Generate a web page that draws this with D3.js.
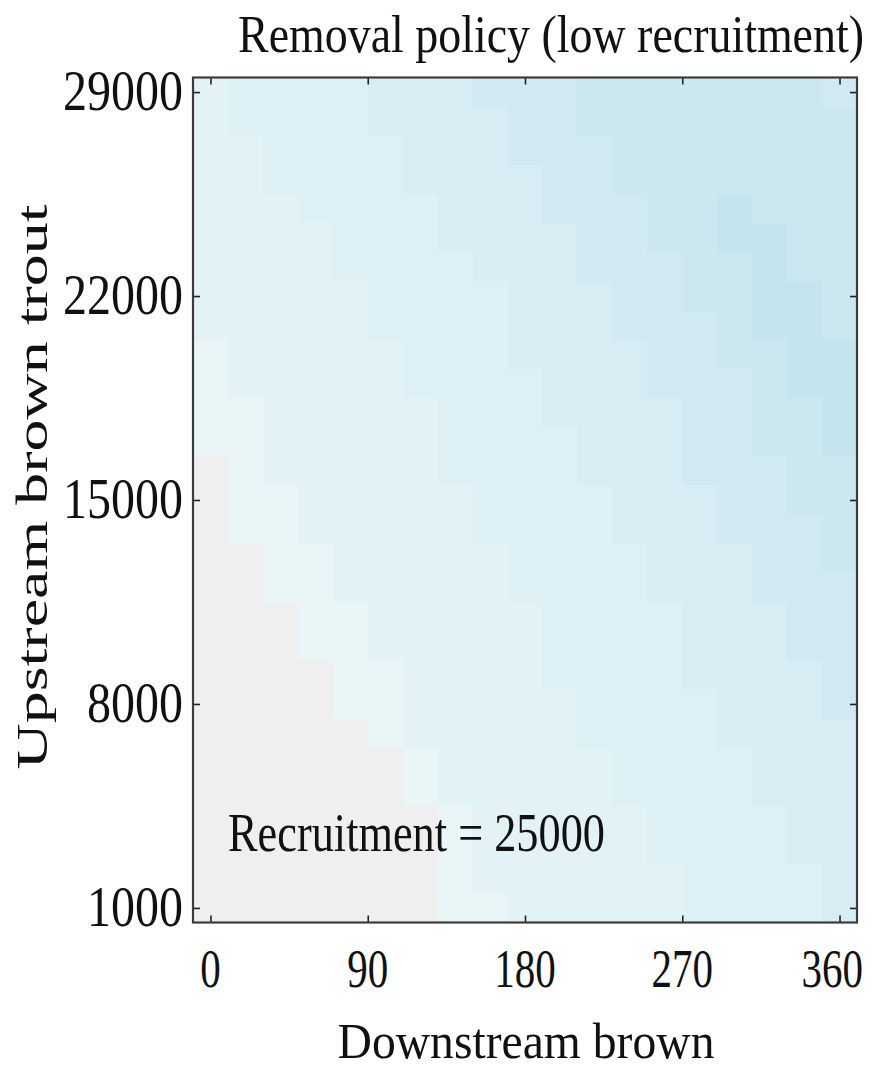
<!DOCTYPE html>
<html>
<head>
<meta charset="utf-8">
<script src="https://cdn.jsdelivr.net/npm/d3@7"></script>
<style>
  body { margin: 0; background: #ffffff; }
  svg { display: block; }
</style>
</head>
<body>
<svg id="chart" width="877" height="1073"></svg>
<script>
// ---------------- DATA ----------------
// Downstream brown removal (cell centres, columns left -> right)
const xValues = [0, 20, 40, 60, 80, 100, 120, 140, 160, 180, 200, 220, 240, 260, 280, 300, 320, 340, 360];
// Upstream brown trout (cell centres, rows top -> bottom)
const yValues = [29000, 28000, 27000, 26000, 25000, 24000, 23000, 22000, 21000, 20000,
                 19000, 18000, 17000, 16000, 15000, 14000, 13000, 12000, 11000, 10000,
                 9000, 8000, 7000, 6000, 5000, 4000, 3000, 2000, 1000];
const xTickValues = [0, 90, 180, 270, 360];
const yTickValues = [1000, 8000, 15000, 22000, 29000];
// Estimated shading level of each cell (0 = grey / no removal, 1..7 = light -> dark blue)
const levels = [
  [2,3,3,3,3,4,4,4,5,5,5,6,6,6,6,6,6,6,5],
  [2,3,3,3,3,4,4,4,4,5,5,6,6,6,6,6,6,6,6],
  [2,2,3,3,3,3,4,4,4,5,5,5,6,6,6,6,6,6,6],
  [2,2,3,3,3,3,4,4,4,4,5,5,6,6,6,6,6,6,6],
  [2,2,2,3,3,3,3,4,4,4,5,5,5,6,6,7,6,6,6],
  [2,2,2,2,3,3,3,4,4,4,4,5,5,6,6,7,7,6,6],
  [2,2,2,2,3,3,3,3,4,4,4,5,5,5,6,6,7,6,6],
  [2,2,2,2,2,3,3,3,3,4,4,4,5,5,6,6,7,7,6],
  [2,2,2,2,2,3,3,3,3,4,4,4,5,5,5,6,7,7,6],
  [1,2,2,2,2,2,3,3,3,4,4,4,4,5,5,6,6,7,7],
  [1,2,2,2,2,2,3,3,3,3,4,4,4,5,5,5,6,7,7],
  [1,1,2,2,2,2,2,3,3,3,4,4,4,4,5,5,6,6,7],
  [1,1,2,2,2,2,2,3,3,3,3,4,4,4,5,5,6,6,7],
  [0,1,2,2,2,2,2,3,3,3,3,4,4,4,5,5,5,6,6],
  [0,1,1,2,2,2,2,2,3,3,3,3,4,4,4,5,5,6,6],
  [0,1,1,2,2,2,2,2,3,3,3,3,4,4,4,5,5,5,6],
  [0,0,1,1,2,2,2,2,2,3,3,3,3,4,4,4,5,5,6],
  [0,0,1,1,2,2,2,2,2,3,3,3,3,4,4,4,5,5,5],
  [0,0,0,1,1,2,2,2,2,2,3,3,3,3,4,4,4,5,5],
  [0,0,0,1,1,2,2,2,2,2,3,3,3,3,4,4,4,5,5],
  [0,0,0,0,1,1,2,2,2,2,3,3,3,3,4,4,4,4,5],
  [0,0,0,0,1,1,2,2,2,2,2,3,3,3,3,4,4,4,5],
  [0,0,0,0,0,1,2,2,2,2,2,3,3,3,3,4,4,4,4],
  [0,0,0,0,0,0,1,2,2,2,2,2,3,3,3,3,4,4,4],
  [0,0,0,0,0,0,1,2,2,2,2,2,3,3,3,3,4,4,4],
  [0,0,0,0,0,0,0,1,2,2,2,2,2,3,3,3,3,4,4],
  [0,0,0,0,0,0,0,1,2,2,2,2,2,3,3,3,3,4,4],
  [0,0,0,0,0,0,0,1,2,2,2,2,2,2,3,3,3,3,4],
  [0,0,0,0,0,0,0,1,1,2,2,2,2,2,3,3,3,3,4]
];
const titleText = "Removal policy (low recruitment)";
const xAxisTitle = "Downstream brown";
const yAxisTitle = "Upstream brown trout";
const annotationText = "Recruitment = 25000";

// ---------------- STYLE / LAYOUT ----------------
const palette = ["#efefef", "#eaf5f8", "#e3f2f6", "#ddf0f5", "#d7edf3", "#d1eaf1", "#cbe8f0", "#c4e5ee"];
const plot = { left: 193, right: 857, top: 77.5, bottom: 922.5 };
const fontFamily = "'Liberation Serif', 'DejaVu Serif', serif";
const xStep = 20, yStep = 1000;

const svg = d3.select("#chart");

const x = d3.scaleLinear()
  .domain([d3.min(xValues) - xStep / 2, d3.max(xValues) + xStep / 2])
  .range([plot.left, plot.right]);
const y = d3.scaleLinear()
  .domain([d3.min(yValues) - yStep / 2, d3.max(yValues) + yStep / 2])
  .range([plot.bottom, plot.top]);
const color = d3.scaleOrdinal().domain(d3.range(palette.length)).range(palette);

// cells
const cells = [];
levels.forEach((row, i) => row.forEach((v, j) => cells.push({ xv: xValues[j], yv: yValues[i], v })));

svg.append("g")
  .selectAll("rect")
  .data(cells)
  .join("rect")
  .attr("x", d => x(d.xv - xStep / 2))
  .attr("y", d => y(d.yv + yStep / 2))
  .attr("width", d => x(d.xv + xStep / 2) - x(d.xv - xStep / 2) + 0.5)
  .attr("height", d => y(d.yv - yStep / 2) - y(d.yv + yStep / 2) + 0.5)
  .attr("fill", d => color(d.v))
  .attr("shape-rendering", "crispEdges");

// axes with inward ticks (box style)
const tickLen = 7;
function styleAxis(g) {
  g.select(".domain").remove();
  g.selectAll(".tick line").attr("stroke", "#222").attr("stroke-width", 1.6);
  g.selectAll(".tick text").remove();
}
svg.append("g").attr("transform", `translate(0,${plot.bottom})`)
  .call(d3.axisBottom(x).tickValues(xTickValues).tickSize(-tickLen).tickSizeOuter(0)).call(styleAxis);
svg.append("g").attr("transform", `translate(0,${plot.top})`)
  .call(d3.axisTop(x).tickValues(xTickValues).tickSize(-tickLen).tickSizeOuter(0)).call(styleAxis);
svg.append("g").attr("transform", `translate(${plot.left},0)`)
  .call(d3.axisLeft(y).tickValues(yTickValues).tickSize(-tickLen).tickSizeOuter(0)).call(styleAxis);
svg.append("g").attr("transform", `translate(${plot.right},0)`)
  .call(d3.axisRight(y).tickValues(yTickValues).tickSize(-tickLen).tickSizeOuter(0)).call(styleAxis);

// frame
svg.append("rect")
  .attr("x", plot.left).attr("y", plot.top)
  .attr("width", plot.right - plot.left).attr("height", plot.bottom - plot.top)
  .attr("fill", "none").attr("stroke", "#3c3c3c").attr("stroke-width", 2.2);

// text helper: font-size gives the natural width, a vertical stretch gives the tall look
function addText(str, o) {
  const t = svg.append("text")
    .text(str)
    .attr("font-family", fontFamily)
    .attr("font-size", o.size)
    .attr("fill", "#111")
    .attr("text-anchor", o.anchor || "start")
    .attr("x", 0).attr("y", 0)
    .attr("transform", `translate(${o.x},${o.y})${o.rotate ? ` rotate(${o.rotate})` : ""} scale(1,${o.stretch})`);
  if (o.length) t.attr("textLength", o.length).attr("lengthAdjust", "spacingAndGlyphs");
  return t;
}

// tick labels
yTickValues.forEach(v => {
  const s = String(v);
  addText(s, { x: 183, y: y(v) + 18, size: 48, stretch: 1.17, anchor: "end", length: 24 * s.length });
});
xTickValues.forEach(v => {
  const s = String(v);
  const w = 20.5 * s.length;
  const cx = Math.min(x(v), 877 - w / 2 - 14);
  addText(s, { x: cx, y: 987, size: 41, stretch: 1.36, anchor: "middle", length: w });
});

// titles
addText(titleText, { x: 551, y: 52, size: 45, stretch: 1.16, anchor: "middle", length: 626 });
addText(xAxisTitle, { x: 526, y: 1058, size: 47, stretch: 1.1, anchor: "middle", length: 377 });
addText(yAxisTitle, { x: 47, y: 487, rotate: -90, size: 63, stretch: 0.71, anchor: "middle", length: 565 });
addText(annotationText, { x: 228, y: 851, size: 44, stretch: 1.23, anchor: "start", length: 377 });
</script>
</body>
</html>
